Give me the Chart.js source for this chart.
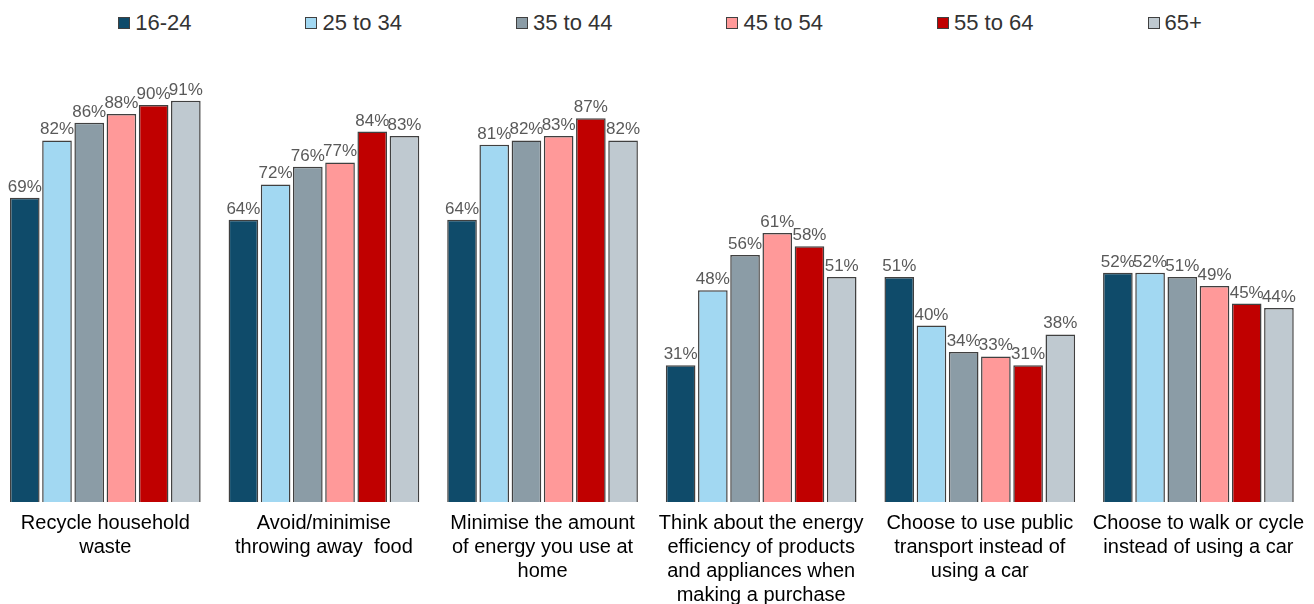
<!DOCTYPE html>
<html>
<head>
<meta charset="utf-8">
<script src="https://cdn.jsdelivr.net/npm/chart.js@4.4.1/dist/chart.umd.min.js"></script>
<style>
  html, body { margin: 0; padding: 0; background: #fff; overflow: hidden; }
  #wrap { position: relative; width: 1314px; height: 604px; overflow: hidden; }
  #legend {
    position: absolute; top: 10px; left: 0; width: 1320px;
    display: flex; justify-content: center; gap: 114px;
    font: 22px "Liberation Sans", Arial, sans-serif; color: #333; line-height: 26px;
  }
  #legend .item { display: flex; align-items: center; }
  #legend .box { width: 10px; height: 10px; border: 1px solid #404040; margin-right: 5px; }
  #holder { position: absolute; left: -4px; top: 0; width: 1317px; height: 616px; }
</style>
</head>
<body>
<div id="wrap">
  <div id="legend"></div>
  <div id="holder"><canvas id="chart"></canvas></div>
</div>
<script>
const categories = [
  ['Recycle household', 'waste'],
  ['Avoid/minimise', 'throwing away  food'],
  ['Minimise the amount', 'of energy you use at', 'home'],
  ['Think about the energy', 'efficiency of products', 'and appliances when', 'making a purchase'],
  ['Choose to use public', 'transport instead of', 'using a car'],
  ['Choose to walk or cycle', 'instead of using a car']
];

const ages = ['16-24', '25 to 34', '35 to 44', '45 to 54', '55 to 64', '65+'];
const colors = ['#0F4B6A', '#A2D8F2', '#8B9CA6', '#FF9999', '#C00000', '#BFC9D0'];

const age16to24 = [69, 64, 64, 31, 51, 52];
const age25to34 = [82, 72, 81, 48, 40, 52];
const age35to44 = [86, 76, 82, 56, 34, 51];
const age45to54 = [88, 77, 83, 61, 33, 49];
const age55to64 = [90, 84, 87, 58, 31, 45];
const age65plus = [91, 83, 82, 51, 38, 44];

const values = [age16to24, age25to34, age35to44, age45to54, age55to64, age65plus];

const FONT = '"Liberation Sans", Arial, sans-serif';

// percent labels above each bar
const barLabels = {
  id: 'barLabels',
  afterDatasetsDraw(chart) {
    const ctx = chart.ctx;
    ctx.save();
    ctx.font = '17px ' + FONT;
    ctx.fillStyle = '#595959';
    ctx.textAlign = 'center';
    ctx.textBaseline = 'alphabetic';
    chart.data.datasets.forEach((ds, i) => {
      chart.getDatasetMeta(i).data.forEach((bar, j) => {
        ctx.fillText(ds.data[j] + '%', bar.x, bar.y - 6);
      });
    });
    ctx.restore();
  }
};

let canvas = document.getElementById('chart');

const chart = new Chart(canvas, {
  type: 'bar',
  data: {
    labels: categories,
    datasets: ages.map((age, i) => ({
      label: age,
      data: values[i],
      backgroundColor: colors[i],
      borderColor: '#404040',
      borderWidth: 1.5,
      categoryPercentage: 0.884,
      barPercentage: 0.92
    }))
  },
  options: {
    responsive: true,
    maintainAspectRatio: false,
    animation: false,
    layout: { padding: { top: 61, left: 0, right: 0, bottom: 0 } },
    plugins: {
      legend: { display: false },
      tooltip: { enabled: false }
    },
    scales: {
      y: { display: false, min: 0, max: 100 },
      x: {
        grid: { display: false, drawTicks: false },
        border: { display: false },
        ticks: {
          autoSkip: false,
          maxRotation: 0,
          padding: 9,
          color: '#000',
          font: { family: FONT, size: 20, lineHeight: 1.2 }
        }
      }
    }
  },
  plugins: [barLabels]
});

// html legend built from the datasets
const legend = document.getElementById('legend');
chart.data.datasets.forEach(ds => {
  const item = document.createElement('div');
  item.className = 'item';
  const box = document.createElement('span');
  box.className = 'box';
  box.style.background = ds.backgroundColor;
  const txt = document.createElement('span');
  txt.textContent = ds.label;
  item.appendChild(box);
  item.appendChild(txt);
  legend.appendChild(item);
});
</script>
</body>
</html>
